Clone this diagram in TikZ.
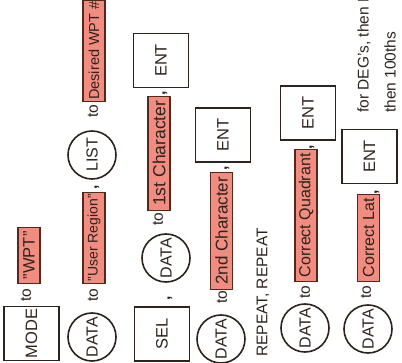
\documentclass[tikz,border=0pt]{standalone}
\usepackage{fontspec}
\setmainfont{Liberation Sans}
\definecolor{ink}{RGB}{45,35,30}
\definecolor{hilite}{RGB}{240,140,128}
\definecolor{hiborder}{RGB}{85,40,30}
\newcommand{\fsz}[1]{\fontsize{#1}{#1}\selectfont}
\begin{document}
\begin{tikzpicture}[x=1pt,y=-1pt,
  every node/.style={rotate=90,text=ink,font=\fsz{15.5}},
  keybox/.style={draw=ink,line width=1.6pt,minimum width=54pt,minimum height=55pt,inner sep=0pt,font=\fsz{16.5}},
  keyround/.style={draw=ink,line width=1.6pt,circle,minimum size=48pt,inner sep=0pt,font=\fsz{16}},
  hl/.style={draw=hiborder,line width=1.4pt,fill=hilite,minimum height=22pt,inner xsep=1.5pt,inner ysep=0pt,anchor=west},
  word/.style={inner sep=0pt},
  txt/.style={inner sep=0pt,anchor=west}]
\useasboundingbox (0,0) rectangle (402,363);
\clip (0,0) rectangle (402,363);
% line 1
\node[keybox] (mode) at (31.5,333.5) {MODE};
\node[word] (to1) at (26,295) {to};
\node[hl,minimum width=56pt,font=\fsz{16.5}] (wpt) at (29,284) {"WPT"};
% line 2
\node[keyround] (data1) at (92,337) {DATA};
\node[word] (to2) at (93,295) {to};
\node[hl,minimum width=91pt,font=\fsz{14}] (ureg) at (94,284) {"User Region"};
\node[word] (c1) at (97,187) {\textbf{,}};
\node[keyround] (list) at (92,155) {LIST};
\node[word] (to3) at (93,111) {to};
\node[hl,font=\fsz{14.5}] (dwpt) at (94,102) {Desired WPT \#};
% line 3
\node[keybox] (sel) at (162,334) {SEL};
\node[word] (c2) at (170,298) {\textbf{,}};
\node[keyround] (data2) at (166,258) {DATA};
\node[word] (to4) at (158,219) {to};
\node[hl,minimum width=114pt,font=\fsz{17.5}] (first) at (159,211) {1st Character};
\node[word] (c3) at (165,93) {\textbf{,}};
\node[keybox] (ent1) at (161,60.5) {ENT};
% line 4
\node[keyround] (data3) at (221,339) {DATA};
\node[word] (to5) at (222,297) {to};
\node[hl,minimum width=117pt,font=\fsz{17}] (second) at (221.5,290) {2nd Character};
\node[word] (c4) at (227,168) {\textbf{,}};
\node[keybox] (ent2) at (223,135) {ENT};
% line 5
\node[txt] (rep) at (263,357) {REPEAT, REPEAT};
% line 6
\node[keyround] (data4) at (305,328) {DATA};
\node[word] (to6) at (305,292) {to};
\node[hl,minimum width=132pt,font=\fsz{16}] (quad) at (306,282) {Correct Quadrant};
\node[word] (c5) at (312,147) {\textbf{,}};
\node[keybox] (ent3) at (308,113) {ENT};
% line 7
\node[keyround] (data5) at (368,329) {DATA};
\node[word] (to7) at (366,292) {to};
\node[hl,minimum width=87pt,font=\fsz{16}] (lat) at (368.5,282) {Correct Lat};
\node[word] (c6) at (377,192) {\textbf{,}};
\node[keybox] (ent4) at (369.5,156.5) {ENT};
\node[txt] (deg) at (364,113) {for DEG's, then M};
\node[txt] (hund) at (390,113) {then 100ths};
\end{tikzpicture}
\end{document}
